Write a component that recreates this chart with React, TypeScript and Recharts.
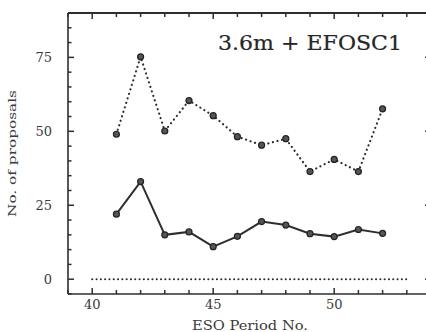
import React from 'react';
import { LineChart, Line, XAxis, YAxis } from 'recharts';

const periods = [41, 42, 43, 44, 45, 46, 47, 48, 49, 50, 51, 52];
const efosc1Proposals = [22, 33, 15, 16, 11, 14.5, 19.5, 18.3, 15.4, 14.4, 16.8, 15.5];
const telescopeProposals = [49, 75.2, 50.1, 60.4, 55.3, 48.2, 45.3, 47.5, 36.4, 40.5, 36.4, 57.6];
const baselinePeriods = [40, 53];
const baselineValues = [0, 0];

const xTicks = [39, 40, 41, 42, 43, 44, 45, 46, 47, 48, 49, 50, 51, 52, 53, 54];
const yTicks = [-5, 0, 5, 10, 15, 20, 25, 30, 35, 40, 45, 50, 55, 60, 65, 70, 75, 80, 85, 90];
const xLabelTicks = [40, 45, 50];
const yLabelTicks = [0, 25, 50, 75];

const title = '3.6m + EFOSC1';
const xTitle = 'ESO Period No.';
const yTitle = 'No. of proposals';

const data = periods.map((p, i) => ({ period: p, efosc1: efosc1Proposals[i], total: telescopeProposals[i] }));
const baselineData = baselinePeriods.map((p, i) => ({ period: p, baseline: baselineValues[i] }));

const FONT = '"DejaVu Serif", "Liberation Serif", serif';
const INK = '#2e2e2e';

const BottomTick = (props: any) => {
  const { x, y, payload } = props;
  const v = payload.value;
  const labelled = xLabelTicks.includes(v);
  return (
    <g>
      <line x1={x} x2={x} y1={y} y2={y - (v % 5 === 0 ? 6 : 4)} stroke={INK} strokeWidth={1.5} />
      {labelled && (
        <text x={x} y={y + 15} textAnchor="middle" fontFamily={FONT} fontSize={13} fill="#3a3a3a">{v}</text>
      )}
    </g>
  );
};

const TopTick = (props: any) => {
  const { x, y, payload } = props;
  const v = payload.value;
  return <line x1={x} x2={x} y1={y} y2={y + (v % 5 === 0 ? 6 : 4)} stroke={INK} strokeWidth={1.5} />;
};

const LeftTick = (props: any) => {
  const { x, y, payload } = props;
  const v = payload.value;
  const labelled = yLabelTicks.includes(v);
  return (
    <g>
      <line x1={x} x2={x + (v % 25 === 0 ? 6 : 3.5)} y1={y} y2={y} stroke={INK} strokeWidth={1.5} />
      {labelled && (
        <text x={x - 16} y={y + 5} textAnchor="end" fontFamily={FONT} fontSize={13} fill="#3a3a3a">{v}</text>
      )}
    </g>
  );
};

const RightTick = (props: any) => {
  const { x, y, payload } = props;
  const v = payload.value;
  return <line x1={x - (v % 25 === 0 ? 6 : 3.5)} x2={x} y1={y} y2={y} stroke={INK} strokeWidth={1.5} />;
};

const Dot = (props: any) => {
  const { cx, cy, index } = props;
  if (cx == null || cy == null) return <g key={index} />;
  return <circle key={index} cx={cx} cy={cy} r={3} fill="#555" stroke="#222" strokeWidth={1.2} />;
};

export default function App() {
  return (
    <div style={{ position: 'absolute', left: 0, top: 0, width: 426, height: 332, overflow: 'hidden', background: '#fff' }}>
      <LineChart width={436} height={332} data={data} margin={{ top: 12, right: 0, bottom: 0, left: 0 }}>
        <XAxis
          xAxisId="bottom"
          dataKey="period"
          type="number"
          domain={[39, 54]}
          allowDataOverflow
          ticks={xTicks}
          interval={0}
          height={38}
          tickSize={0}
          tickMargin={0}
          tickLine={false}
          axisLine={{ stroke: INK, strokeWidth: 1.6 }}
          tick={<BottomTick />}
        />
        <XAxis
          xAxisId="top"
          orientation="top"
          dataKey="period"
          type="number"
          domain={[39, 54]}
          allowDataOverflow
          ticks={xTicks}
          interval={0}
          height={1}
          tickSize={0}
          tickMargin={0}
          tickLine={false}
          axisLine={{ stroke: INK, strokeWidth: 2 }}
          tick={<TopTick />}
        />
        <YAxis
          yAxisId="left"
          type="number"
          domain={[-5, 90]}
          allowDataOverflow
          ticks={yTicks}
          interval={0}
          width={68}
          tickSize={0}
          tickMargin={0}
          tickLine={false}
          axisLine={{ stroke: INK, strokeWidth: 1.6 }}
          tick={<LeftTick />}
        />
        <YAxis
          yAxisId="right"
          orientation="right"
          type="number"
          domain={[-5, 90]}
          allowDataOverflow
          ticks={yTicks}
          interval={0}
          width={5}
          tickSize={0}
          tickMargin={0}
          tickLine={false}
          axisLine={{ stroke: INK, strokeWidth: 1.6 }}
          tick={<RightTick />}
        />
        <Line
          xAxisId="bottom"
          yAxisId="left"
          data={baselineData}
          dataKey="baseline"
          stroke={INK}
          strokeWidth={2}
          strokeDasharray="0.1 4.2"
          strokeLinecap="round"
          dot={false}
          isAnimationActive={false}
        />
        <Line
          xAxisId="bottom"
          yAxisId="left"
          dataKey="total"
          stroke={INK}
          strokeWidth={2.2}
          strokeDasharray="0.1 4.6"
          strokeLinecap="round"
          dot={<Dot />}
          isAnimationActive={false}
        />
        <Line
          xAxisId="bottom"
          yAxisId="left"
          dataKey="efosc1"
          stroke={INK}
          strokeWidth={2}
          dot={<Dot />}
          isAnimationActive={false}
        />
      </LineChart>
      <svg width={426} height={332} style={{ position: 'absolute', left: 0, top: 0, pointerEvents: 'none' }}>
        <text x={218} y={50} fontFamily={FONT} fontSize={20} fill="#262626" textLength={184} lengthAdjust="spacingAndGlyphs" stroke="#262626" strokeWidth={0.2}>{title}</text>
        <text x={192} y={330} fontFamily={FONT} fontSize={12} fill="#3a3a3a" textLength={116} lengthAdjust="spacingAndGlyphs">{xTitle}</text>
        <text transform="translate(16, 217) rotate(-90)" x={0} y={0} fontFamily={FONT} fontSize={11} fill="#3a3a3a" textLength={127} lengthAdjust="spacingAndGlyphs">{yTitle}</text>
      </svg>
    </div>
  );
}
